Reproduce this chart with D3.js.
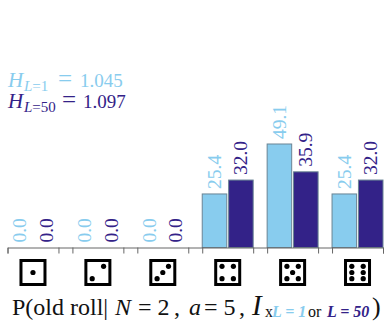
<!DOCTYPE html>
<html lang="en">
<head>
<meta charset="UTF-8">
<title>Dice posterior</title>
<script src="https://d3js.org/d3.v7.min.js"></script>
<style>
    body { margin: 0; background: #fff; }
    svg { display: block; }
    text { font-family: "Liberation Serif", serif; }
</style>
</head>
<body>
<div id="chart"></div>
<script>
    const faces = [1, 2, 3, 4, 5, 6];
    const seriesNames = ["L=1", "L=50"];
    const probL1 = [0.0, 0.0, 0.0, 25.4, 49.1, 25.4];
    const probL50 = [0.0, 0.0, 0.0, 32.0, 35.9, 32.0];
    const entropyL1 = "1.045";
    const entropyL50 = "1.097";

    const lightBlue = "#88CCEE";
    const darkBlue = "#332288";
    const width = 390, height = 323;

    const svg = d3.select("#chart").append("svg")
        .attr("width", width)
        .attr("height", height);

    const x0 = d3.scaleBand().domain(faces).range([7.5, 383]).paddingInner(0.215);
    const x1 = d3.scaleBand().domain(seriesNames).range([0, x0.bandwidth()]).paddingInner(0.07);
    const y = d3.scaleLinear().domain([0, 49.1]).range([247.5, 144]);

    const colors = { "L=1": lightBlue, "L=50": darkBlue };
    const values = { "L=1": probL1, "L=50": probL50 };

    // one group per face, one bar + rotated label per series
    const groups = svg.selectAll("g.face")
        .data(faces)
        .enter().append("g")
        .attr("class", "face")
        .attr("transform", d => `translate(${x0(d)},0)`);

    seriesNames.forEach(name => {
        groups.append("rect")
            .attr("x", x1(name))
            .attr("y", (d, i) => y(values[name][i]))
            .attr("width", x1.bandwidth())
            .attr("height", (d, i) => y(0) - y(values[name][i]))
            .attr("fill", colors[name])
            .attr("stroke", "#6a8494")
            .attr("stroke-width", (d, i) => values[name][i] > 0 ? 1 : 0);

        groups.append("text")
            .attr("transform", (d, i) => `translate(${x1(name) + x1.bandwidth() / 2 + 6.5},${y(values[name][i]) - 5}) rotate(-90)`)
            .attr("font-size", 19.5)
            .attr("fill", colors[name])
            .text((d, i) => values[name][i].toFixed(1));
    });

    // axis: ticks sit on the outer edges of every group
    const edgeTicks = faces.flatMap(f => [x0(f), x0(f) + x0.bandwidth()]);
    const axisScale = d3.scaleLinear().domain([7.5, 383]).range([7.5, 383]);
    const axis = svg.append("g")
        .attr("transform", `translate(0,${y(0)})`)
        .call(d3.axisBottom(axisScale).tickValues(edgeTicks).tickSize(6).tickFormat(""));
    axis.selectAll("path, line").attr("stroke", "#666").attr("stroke-width", 1);

    // dice faces underneath
    const pipLayouts = {
        1: [[0, 0]],
        2: [[-1, 1], [1, -1]],
        3: [[-1, 1], [0, 0], [1, -1]],
        4: [[-1, -1], [1, -1], [-1, 1], [1, 1]],
        5: [[-1, -1], [1, -1], [0, 0], [-1, 1], [1, 1]],
        6: [[-1, -1], [1, -1], [-1, 0], [1, 0], [-1, 1], [1, 1]]
    };
    const dice = svg.selectAll("g.die")
        .data(faces)
        .enter().append("g")
        .attr("class", "die")
        .attr("transform", d => `translate(${x0(d) + x0.bandwidth() / 2},272.5)`);
    dice.append("rect")
        .attr("x", -12).attr("y", -12)
        .attr("width", 24).attr("height", 24)
        .attr("fill", "#fff")
        .attr("stroke", "#000")
        .attr("stroke-width", 3);
    dice.selectAll("circle")
        .data(d => pipLayouts[d])
        .enter().append("circle")
        .attr("cx", d => d[0] * 5.7)
        .attr("cy", d => d[1] * 6.2)
        .attr("r", 2.6)
        .attr("fill", "#000");

    // entropy annotations, pieces placed by hand to follow the math layout
    function entropyLabel(baseline, sub, value, eqX, valX, color) {
        const t = svg.append("text").attr("y", baseline).attr("fill", color).attr("font-size", 21);
        t.append("tspan").attr("x", 8).attr("font-style", "italic").text("H");
        t.append("tspan").attr("x", 24).attr("font-size", 15).attr("dy", 4).attr("font-style", "italic").text("L");
        t.append("tspan").attr("font-size", 15).text(sub);
        t.append("tspan").attr("x", eqX).attr("dy", -4).attr("font-size", 25).text("=");
        t.append("tspan").attr("x", valX).attr("font-size", 19).text(value);
    }
    entropyLabel(87, "=1", entropyL1, 58, 80, lightBlue);
    entropyLabel(108, "=50", entropyL50, 62, 83, darkBlue);

    // title line with mixed styling
    const title = svg.append("text").attr("y", 315).attr("font-size", 24).attr("fill", "#111");
    title.append("tspan").attr("x", 12).text("P(old roll|");
    title.append("tspan").attr("x", 115).attr("font-style", "italic").text("N");
    title.append("tspan").attr("x", 138).text("= 2");
    title.append("tspan").attr("x", 174).text(",");
    title.append("tspan").attr("x", 189).attr("font-style", "italic").text("a");
    title.append("tspan").attr("x", 204).text("= 5");
    title.append("tspan").attr("x", 239).text(",");
    title.append("tspan").attr("x", 252).attr("font-style", "italic").attr("font-size", 29).text("I");
    title.append("tspan").attr("x", 265).attr("font-size", 16).attr("dy", 2).text("x");
    title.append("tspan").attr("x", 272).attr("font-size", 16).attr("font-style", "italic").attr("font-weight", "bold").attr("fill", lightBlue).text("L = 1");
    title.append("tspan").attr("x", 308).attr("font-size", 16).text("or");
    title.append("tspan").attr("x", 327).attr("font-size", 16).attr("font-style", "italic").attr("font-weight", "bold").attr("fill", darkBlue).text("L = 50");
    title.append("tspan").attr("x", 372).attr("dy", -2).attr("font-size", 26).text(")");
</script>
</body>
</html>
